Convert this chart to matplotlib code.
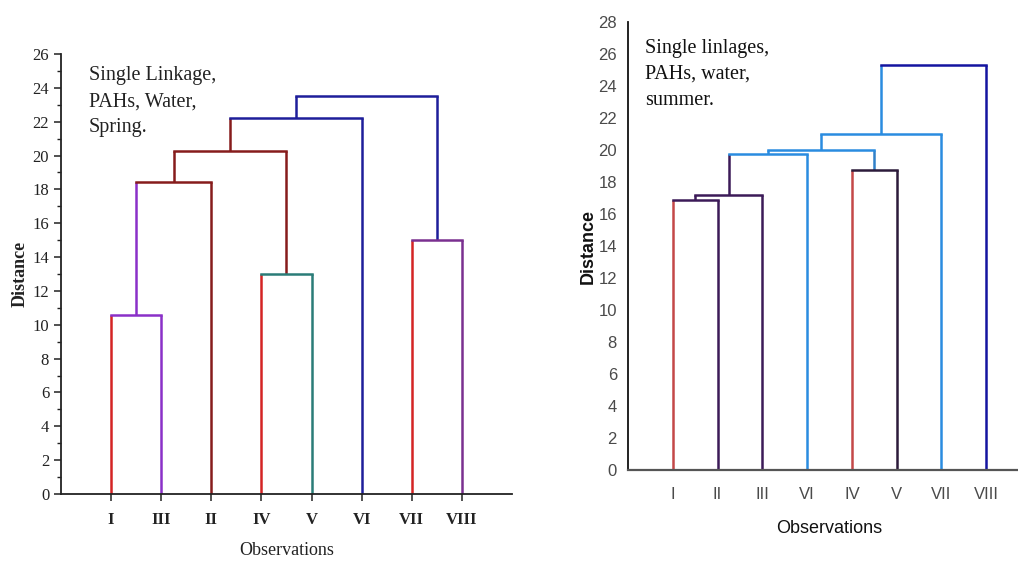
import matplotlib
matplotlib.use("Agg")
import matplotlib.pyplot as plt
from matplotlib.ticker import MultipleLocator

# ---------------- data ----------------
# Left: Single Linkage, PAHs, Water, Spring
spring_leaves = ['I', 'III', 'II', 'IV', 'V', 'VI', 'VII', 'VIII']
spring_left = [0, 3, 6, 8, 11, 12, 13]     # merged node ids (leaves 0..7, merges 8..)
spring_right = [1, 4, 7, 2, 9, 5, 10]
spring_heights = [10.6, 13.0, 15.0, 18.45, 20.25, 22.2, 23.5]

# Right: Single linkages, PAHs, water, summer
summer_leaves = ['I', 'II', 'III', 'VI', 'IV', 'V', 'VII', 'VIII']
summer_left = [0, 8, 4, 9, 11, 12, 13]
summer_right = [1, 2, 5, 3, 10, 6, 7]
summer_heights = [16.9, 17.2, 18.75, 19.75, 20.0, 21.0, 25.3]

# colours: stem colour per node (leaves then merges), bar colour per merge
RED, PURP, MAR, TEAL, NAVY, VIOL = '#d42424', '#8a30c8', '#861c1c', '#2a7c78', '#1e1e9a', '#7a3090'
spring_stem_colors = [RED, PURP, MAR, RED, TEAL, NAVY, RED, VIOL, PURP, MAR, NAVY, MAR, MAR, NAVY]
spring_bar_colors = [PURP, TEAL, VIOL, MAR, MAR, NAVY, NAVY]

SRED, DPUR, DARK, LBLU, MBLU, SNAV = '#c44848', '#3c1a58', '#2c1a3a', '#2a8ce0', '#3080c8', '#1414a0'
summer_stem_colors = [SRED, DPUR, DPUR, LBLU, SRED, DARK, LBLU, SNAV, DPUR, DPUR, MBLU, LBLU, LBLU, LBLU]
summer_bar_colors = [DPUR, DPUR, DARK, LBLU, LBLU, LBLU, SNAV]


def draw_dendrogram(ax, leaves, left, right, heights, stem_colors, bar_colors, lw=1.8):
    n = len(leaves)
    xpos = {i: i + 1 for i in range(n)}
    ypos = {i: 0.0 for i in range(n)}
    parent_h = {}
    for k, (a, b, h) in enumerate(zip(left, right, heights)):
        node = n + k
        parent_h[a] = h
        parent_h[b] = h
        xpos[node] = (xpos[a] + xpos[b]) / 2.0
        ypos[node] = h
    # stems
    for node, ph in parent_h.items():
        ax.plot([xpos[node], xpos[node]], [ypos[node], ph],
                color=stem_colors[node], lw=lw, solid_capstyle='butt', zorder=2)
    # bars
    for k, (a, b, h) in enumerate(zip(left, right, heights)):
        ax.plot([xpos[a], xpos[b]], [h, h], color=bar_colors[k], lw=lw,
                solid_capstyle='projecting', zorder=3)
    ax.set_xticks(range(1, n + 1))
    ax.set_xticklabels(leaves)


fig = plt.figure(figsize=(10.18, 5.62), dpi=100)

# ---------------- left panel ----------------
serif = ['Liberation Serif', 'DejaVu Serif']
ax1 = fig.add_axes([61 / 1018, 1 - 494 / 562, 451 / 1018, 440 / 562])
draw_dendrogram(ax1, spring_leaves, spring_left, spring_right, spring_heights,
                spring_stem_colors, spring_bar_colors)
ax1.set_xlim(0, 9)
ax1.set_ylim(0, 26)
ax1.yaxis.set_major_locator(MultipleLocator(2))
ax1.yaxis.set_minor_locator(MultipleLocator(1))
for s in ['top', 'right']:
    ax1.spines[s].set_visible(False)
for s in ['left', 'bottom']:
    ax1.spines[s].set_linewidth(1.3)
    ax1.spines[s].set_color('#222222')
ax1.tick_params(axis='both', which='major', direction='out', length=5, width=1.1, color='#222222')
ax1.tick_params(axis='x', which='major', pad=8)
ax1.tick_params(axis='y', which='minor', direction='out', length=3, width=1.0, color='#222222')
ax1.tick_params(axis='x', which='minor', bottom=False)
for lab in ax1.get_yticklabels():
    lab.set_fontfamily(serif)
    lab.set_fontsize(12)
    lab.set_color('#222222')
for lab in ax1.get_xticklabels():
    lab.set_fontfamily(serif)
    lab.set_fontsize(12)
    lab.set_fontweight('bold')
    lab.set_color('#222222')
ax1.set_xlabel('Observations', fontfamily=serif, fontsize=13, labelpad=10, color='#222222')
ax1.set_ylabel('Distance', fontfamily=serif, fontsize=13, fontweight='bold', labelpad=3, color='#222222')
ax1.text(0.062, 0.972, 'Single Linkage,\nPAHs, Water,\nSpring.', transform=ax1.transAxes,
         ha='left', va='top', fontfamily=serif, fontsize=14.5, linespacing=1.5, color='#222222')

# ---------------- right panel ----------------
sans = ['Liberation Sans', 'DejaVu Sans']
ax2 = fig.add_axes([628 / 1018, 1 - 470 / 562, 403 / 1018, 448 / 562])
draw_dendrogram(ax2, summer_leaves, summer_left, summer_right, summer_heights,
                summer_stem_colors, summer_bar_colors)
ax2.set_xlim(0, 9)
ax2.set_ylim(0, 28)
ax2.yaxis.set_major_locator(MultipleLocator(2))
for s in ['top', 'right']:
    ax2.spines[s].set_visible(False)
ax2.spines['left'].set_color('#111111')
ax2.spines['left'].set_linewidth(1.3)
ax2.spines['bottom'].set_color('#555555')
ax2.spines['bottom'].set_linewidth(1.6)
ax2.tick_params(axis='both', which='both', length=0)
ax2.tick_params(axis='x', pad=12)
ax2.tick_params(axis='y', pad=8)
for lab in ax2.get_yticklabels() + ax2.get_xticklabels():
    lab.set_fontfamily(sans)
    lab.set_fontsize(12)
    lab.set_color('#4a4a4a')
ax2.set_xlabel('Observations', fontfamily=sans, fontsize=13, labelpad=13, color='#111111')
ax2.set_ylabel('Distance', fontfamily=sans, fontsize=13, fontweight='bold', labelpad=1, color='#111111')
ax2.text(0.042, 0.962, 'Single linlages,\nPAHs, water,\nsummer.', transform=ax2.transAxes,
         ha='left', va='top', fontfamily=serif, fontsize=14.5, linespacing=1.5, color='#111111')

fig.savefig('out.png', dpi=100)
